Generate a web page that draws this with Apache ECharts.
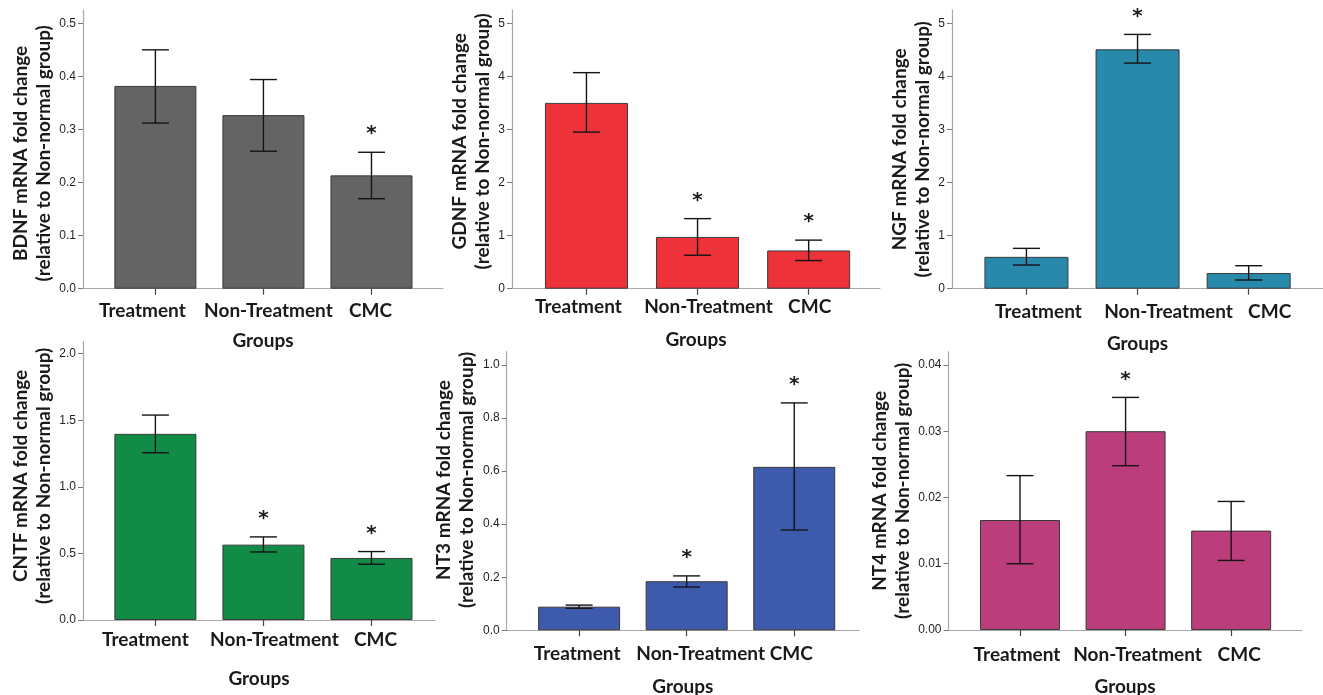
<!DOCTYPE html>
<html>
<head>
<meta charset="utf-8">
<script src="https://cdn.jsdelivr.net/npm/echarts@6/dist/echarts.min.js"></script>
<style>
html,body{margin:0;padding:0;background:#fff;}
#chart{width:1323px;height:695px;}
</style>
</head>
<body>
<div id="chart"></div>
<script>
// ---------- DATA ----------
const categories = ['Treatment', 'Non-Treatment', 'CMC'];
const xTitle = 'Groups';

const bdnfMean  = [0.382, 0.327, 0.2135];
const bdnfUpper = [0.450, 0.394, 0.257];
const bdnfLower = [0.312, 0.259, 0.1695];
const bdnfSig   = [false, false, true];
const bdnfTicks = [0, 0.1, 0.2, 0.3, 0.4, 0.5];
const bdnfTickLabels = ['0.0', '0.1', '0.2', '0.3', '0.4', '0.5'];

const gdnfMean  = [3.50, 0.975, 0.72];
const gdnfUpper = [4.07, 1.32, 0.915];
const gdnfLower = [2.95, 0.63, 0.53];
const gdnfSig   = [false, true, true];
const gdnfTicks = [0, 1, 2, 3, 4, 5];
const gdnfTickLabels = ['0', '1', '2', '3', '4', '5'];

const ngfMean  = [0.60, 4.51, 0.295];
const ngfUpper = [0.76, 4.79, 0.433];
const ngfLower = [0.446, 4.25, 0.164];
const ngfSig   = [false, true, false];
const ngfTicks = [0, 1, 2, 3, 4, 5];
const ngfTickLabels = ['0', '1', '2', '3', '4', '5'];

const cntfMean  = [1.398, 0.566, 0.466];
const cntfUpper = [1.539, 0.624, 0.514];
const cntfLower = [1.256, 0.511, 0.419];
const cntfSig   = [false, true, true];
const cntfTicks = [0, 0.5, 1.0, 1.5, 2.0];
const cntfTickLabels = ['0.0', '0.5', '1.0', '1.5', '2.0'];

const nt3Mean  = [0.089, 0.185, 0.616];
const nt3Upper = [0.095, 0.205, 0.857];
const nt3Lower = [0.083, 0.163, 0.378];
const nt3Sig   = [false, true, true];
const nt3Ticks = [0, 0.2, 0.4, 0.6, 0.8, 1.0];
const nt3TickLabels = ['0.0', '0.2', '0.4', '0.6', '0.8', '1.0'];

const nt4Mean  = [0.0166, 0.0300, 0.0150];
const nt4Upper = [0.0233, 0.0351, 0.0194];
const nt4Lower = [0.0100, 0.0248, 0.0105];
const nt4Sig   = [false, true, false];
const nt4Ticks = [0, 0.01, 0.02, 0.03, 0.04];
const nt4TickLabels = ['0.00', '0.01', '0.02', '0.03', '0.04'];

const yTitles = [
  'BDNF mRNA fold change\n(relative to Non-normal group)',
  'GDNF mRNA fold change\n(relative to Non-normal group)',
  'NGF mRNA fold change\n(relative to Non-normal group)',
  'CNTF mRNA fold change\n(relative to Non-normal group)',
  'NT3 mRNA fold change\n(relative to Non-normal group)',
  'NT4 mRNA fold change\n(relative to Non-normal group)'
];

// ---------- LAYOUT / STYLE ----------
const panels = [
  {mean: bdnfMean, upper: bdnfUpper, lower: bdnfLower, sig: bdnfSig, ticks: bdnfTicks, tickLabels: bdnfTickLabels,
   color: '#646464', left: 83, right: 880, top: 10, bottom: 406.3, xMin: -0.67, xMax: 2.662, yMax: 0.525,
   barWidth: 82, shift: [-13, 5, -1], labelMargin: 13, nameGap: 43, yNameGap: 28, yNamePad: [0,8,0,0]},
  {mean: gdnfMean, upper: gdnfUpper, lower: gdnfLower, sig: gdnfSig, ticks: gdnfTicks, tickLabels: gdnfTickLabels,
   color: '#ee3239', left: 512, right: 443, top: 10, bottom: 406.3, xMin: -0.67, xMax: 2.642, yMax: 5.25,
   barWidth: 83, shift: [-8, 11, 1], labelMargin: 9, nameGap: 42, yNameGap: 18, yNamePad: [0,0,0,16]},
  {mean: ngfMean, upper: ngfUpper, lower: ngfLower, sig: ngfSig, ticks: ngfTicks, tickLabels: ngfTickLabels,
   color: '#2889ab', left: 952, right: 0, top: 10, bottom: 406.3, xMin: -0.67, xMax: 2.669, yMax: 5.25,
   barWidth: 84, shift: [12, 31, 21], labelMargin: 14, nameGap: 46, yNameGap: 18, yNamePad: [0,0,0,0]},
  {mean: cntfMean, upper: cntfUpper, lower: cntfLower, sig: cntfSig, ticks: cntfTicks, tickLabels: cntfTickLabels,
   color: '#128b47', left: 83, right: 888, top: 341.7, bottom: 75, xMin: -0.67, xMax: 2.588, yMax: 2.09,
   barWidth: 82, shift: [-10, 11, 4], labelMargin: 10, nameGap: 49, yNameGap: 27, yNamePad: [0,0,0,10]},
  {mean: nt3Mean, upper: nt3Upper, lower: nt3Lower, sig: nt3Sig, ticks: nt3Ticks, tickLabels: nt3TickLabels,
   color: '#3d5aad', left: 506.7, right: 464, top: 351.7, bottom: 64.7, xMin: -0.673, xMax: 2.602, yMax: 1.05,
   barWidth: 82, shift: [-2, 14, -3], labelMargin: 14, nameGap: 47, yNameGap: 28, yNamePad: [0,0,0,22]},
  {mean: nt4Mean, upper: nt4Upper, lower: nt4Lower, sig: nt4Sig, ticks: nt4Ticks, tickLabels: nt4TickLabels,
   color: '#bb3d7c', left: 948.5, right: 21.3, top: 351.7, bottom: 65, xMin: -0.677, xMax: 2.668, yMax: 0.042,
   barWidth: 80, shift: [-3, 12, 8], labelMargin: 15, nameGap: 47, yNameGap: 34, yNamePad: [0,0,0,0]}
];

const BOLD_FONT = 'Lato';
const LABEL_SIZE = 19;
const TITLE_SIZE = 19;
const CAP_HALF = 13.5;

function richFor(shift) {
  const r = {};
  shift.forEach((d, i) => {
    const pad = d >= 0 ? [0, 0, 0, 2 * d] : [0, -2 * d, 0, 0];
    r['c' + i] = {fontFamily: BOLD_FONT, fontWeight: 'bold', fontSize: LABEL_SIZE, color: '#1a1a1a', padding: pad};
  });
  return r;
}

function errRender(params, api) {
  const x = api.value(0);
  const top = api.coord([x, api.value(2)]);
  const bot = api.coord([x, api.value(1)]);
  const st = {stroke: '#141414', lineWidth: 1.4};
  const children = [
    {type: 'line', shape: {x1: top[0], y1: top[1], x2: bot[0], y2: bot[1]}, style: st},
    {type: 'line', shape: {x1: top[0] - CAP_HALF, y1: top[1], x2: top[0] + CAP_HALF, y2: top[1]}, style: st},
    {type: 'line', shape: {x1: bot[0] - CAP_HALF, y1: bot[1], x2: bot[0] + CAP_HALF, y2: bot[1]}, style: st}
  ];
  if (api.value(3)) {
    children.push({type: 'text', style: {text: '*', x: top[0], y: top[1] - 8, align: 'center', verticalAlign: 'bottom',
      fontFamily: 'DejaVu Sans', fontWeight: 'bold', fontSize: 20, fill: '#1a1a1a'}});
  }
  return {type: 'group', children};
}

const grid = [], xAxis = [], yAxis = [], series = [];
panels.forEach((p, k) => {
  grid.push({left: p.left, right: p.right, top: p.top, bottom: p.bottom, containLabel: false, outerBoundsMode: 'none'});
  xAxis.push({
    type: 'value', gridIndex: k, min: p.xMin, max: p.xMax, splitLine: {show: false},
    axisLine: {show: true, onZero: false, lineStyle: {color: '#a8a8a8', width: 1.2}},
    axisTick: {show: true, customValues: [0, 1, 2], length: 6, lineStyle: {color: '#444', width: 1.2}},
    axisLabel: {show: true, customValues: [0, 1, 2], margin: p.labelMargin,
      formatter: (v) => { const i = Math.round(v); return '{c' + i + '|' + categories[i] + '}'; },
      rich: richFor(p.shift)},
    name: xTitle, nameLocation: 'middle', nameGap: p.nameGap,
    nameTextStyle: {fontFamily: BOLD_FONT, fontWeight: 'bold', fontSize: LABEL_SIZE, color: '#1a1a1a'}
  });
  yAxis.push({
    type: 'value', gridIndex: k, min: 0, max: p.yMax, splitLine: {show: false},
    axisLine: {show: true, onZero: false, lineStyle: {color: '#a8a8a8', width: 1.2}},
    axisTick: {show: true, customValues: p.ticks, length: 5, lineStyle: {color: '#777', width: 1}},
    axisLabel: {show: true, customValues: p.ticks, margin: 7, fontFamily: 'Liberation Sans', fontSize: 12, color: '#1e1e1e',
      formatter: (v) => { const i = p.ticks.findIndex(t => Math.abs(t - v) < 1e-9); return i >= 0 ? p.tickLabels[i] : ''; }},
    name: yTitles[k], nameLocation: 'middle', nameRotate: 90, nameGap: p.yNameGap,
    nameTextStyle: {fontFamily: BOLD_FONT, fontWeight: 'bold', fontSize: TITLE_SIZE, lineHeight: 23, color: '#1a1a1a', padding: p.yNamePad}
  });
  series.push({
    type: 'bar', xAxisIndex: k, yAxisIndex: k, barWidth: p.barWidth, animation: false,
    data: p.mean.map((v, i) => [i, v]),
    itemStyle: {color: p.color, borderColor: '#3a3a3a', borderWidth: 1}
  });
  series.push({
    type: 'custom', xAxisIndex: k, yAxisIndex: k, animation: false, renderItem: errRender,
    encode: {x: 0, y: [1, 2]}, z: 5,
    data: p.mean.map((v, i) => [i, p.lower[i], p.upper[i], p.sig[i] ? 1 : 0])
  });
});

const chart = echarts.init(document.getElementById('chart'), null, {renderer: 'canvas'});
chart.setOption({animation: false, backgroundColor: '#ffffff', grid, xAxis, yAxis, series});
</script>
</body>
</html>
